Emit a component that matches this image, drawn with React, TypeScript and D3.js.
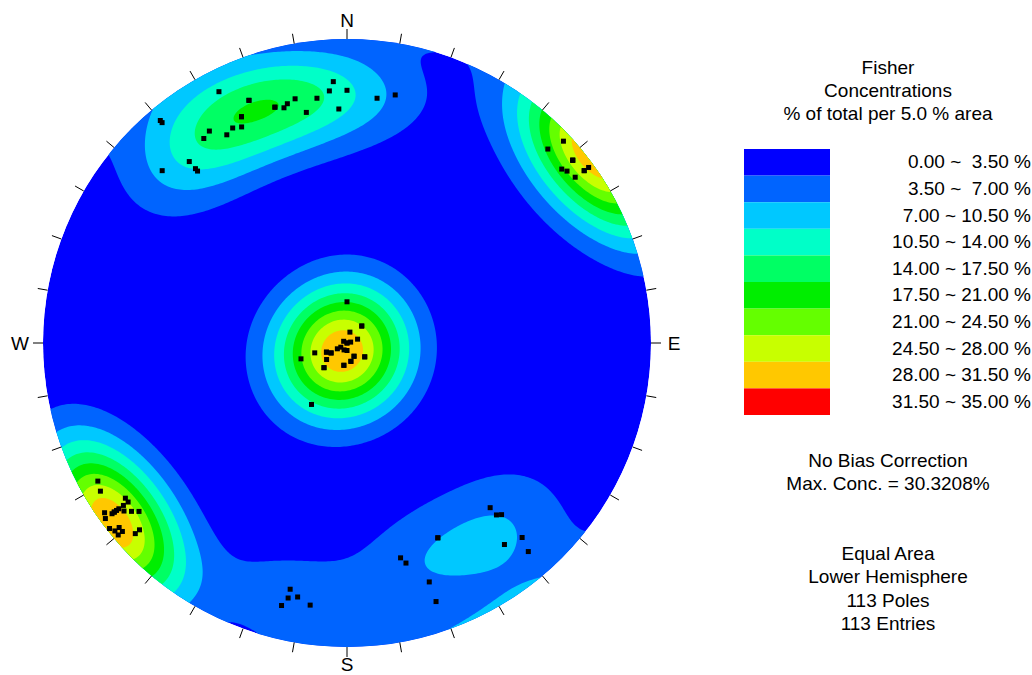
import { useEffect, useRef } from "react";
import * as d3 from "d3";

// pole orientations (trend / plunge, degrees)
const poleTrend = [
  // north-west cluster
  320, 320, 333, 338, 335, 334, 332, 330, 327, 325, 343, 345, 346, 348, 350, 353, 356, 357, 0, 358, 319, 319, 319, 313, 7, 11,
  335, 343, 338,
  // north-east rim cluster
  47, 46, 51, 51, 51, 52, 54, 54, 54, 51, 54,
  // centre cluster
  0, 41, 15, 70, 297, 225, 90, 76, 236, 203, 180, 239, 246, 238, 253, 251, 231, 128, 152, 168, 188, 223, 210,
  246, 238, 152, 168, 41, 223, 128, 188,
  // south-west rim cluster
  241, 239, 235, 234, 234, 234, 234, 234, 234, 232, 231, 235, 234, 232, 231, 231, 230, 230, 228, 228, 234, 233,
  // south scatter
  193, 193, 191, 194, 188, 139, 139, 138, 155, 138, 142, 139, 166, 165, 161, 161, 155,
];
const polePlunge = [
  5, 6, 8, 15, 19, 22, 21, 22, 18, 19, 20, 21, 20, 19, 24, 20, 18, 15, 18, 24, 22, 25, 26, 18, 20, 18,
  19, 20, 15,
  3, 9, 5, 5, 10, 9, 8, 4, 2, 5, 4,
  79, 84, 87, 87, 89, 90, 90, 89, 88, 88, 88, 87, 84, 85, 81, 77, 83, 84, 86, 85, 84, 81, 71,
  84, 85, 86, 85, 84, 81, 84, 84,
  7, 6, 12, 12, 10, 8, 7, 6, 5, 11, 13, 3, 2, 1, 2, 4, 4, 2, 7, 9, 6, 9,
  18, 15, 16, 12, 14, 29, 26, 25, 30, 15, 17, 10, 28, 26, 18, 11, 30,
];

const levels = [0, 3.5, 7, 10.5, 14, 17.5, 21, 24.5, 28, 31.5, 35];
const levelColors = [
  "#0000ff", "#0064ff", "#00c8ff", "#00ffc8", "#00ff64",
  "#00ee00", "#64ff00", "#c8ff00", "#ffc800", "#ff0000",
];
const legendLabels = [
  "0.00 ~  3.50 %", "3.50 ~  7.00 %", "7.00 ~ 10.50 %", "10.50 ~ 14.00 %", "14.00 ~ 17.50 %",
  "17.50 ~ 21.00 %", "21.00 ~ 24.50 %", "24.50 ~ 28.00 %", "28.00 ~ 31.50 %", "31.50 ~ 35.00 %",
];
const headerLines = ["Fisher", "Concentrations", "% of total per 5.0 % area"];
const noteLines = ["No Bias Correction", "Max. Conc. = 30.3208%"];
const infoLines = ["Equal Area", "Lower Hemisphere", "113 Poles", "113 Entries"];
const compass = [["N", 0], ["E", 90], ["S", 180], ["W", 270]] as const;
const kappa = 25;

export default function App() {
  const svgRef = useRef<SVGSVGElement>(null);

  useEffect(() => {
    const svg = d3.select(svgRef.current);
    svg.selectAll("*").remove();

    const cx = 347, cy = 343, R = 304;
    const rad = Math.PI / 180;
    const font = "'Liberation Sans', Arial, sans-serif";

    // equal area (Schmidt) lower hemisphere
    const radius = d3.scaleLinear().domain([0, 1]).range([0, R]);
    const project = (trend: number, plunge: number) => {
      const r = radius(Math.SQRT2 * Math.sin(((90 - plunge) * rad) / 2));
      return [cx + r * Math.sin(trend * rad), cy - r * Math.cos(trend * rad)];
    };
    const vec = (trend: number, plunge: number) => [
      Math.cos(plunge * rad) * Math.cos(trend * rad),
      Math.cos(plunge * rad) * Math.sin(trend * rad),
      Math.sin(plunge * rad),
    ];
    const poles = poleTrend.map((t, i) => vec(t, polePlunge[i]));
    const N = poles.length;

    // fisher density grid, % of total per 5 % area
    const step = 2;
    const n = Math.ceil((2 * R) / step) + 4;
    const x0 = cx - (n * step) / 2, y0 = cy - (n * step) / 2;
    const norm = 1 - Math.exp(-2 * kappa);
    const values = new Float64Array(n * n);
    for (let j = 0; j < n; j++) {
      for (let i = 0; i < n; i++) {
        const dx = x0 + (i + 0.5) * step - cx;
        const dy = y0 + (j + 0.5) * step - cy;
        let rr = Math.sqrt(dx * dx + dy * dy) / R;
        if (rr > 1) rr = 1;
        const theta = 2 * Math.asin(rr / Math.SQRT2);
        const plunge = 90 - theta / rad;
        const trend = Math.atan2(dx, -dy) / rad;
        const v = vec(trend, plunge);
        let s = 0;
        for (const p of poles) {
          const c = v[0] * p[0] + v[1] * p[1] + v[2] * p[2];
          s += (Math.exp(kappa * (c - 1)) + Math.exp(-kappa * (c + 1))) / norm;
        }
        values[j * n + i] = (5 / N) * kappa * s;
      }
    }

    const contours = d3.contours().size([n, n]).thresholds(levels.slice(1, -1))(Array.from(values));
    const path = d3.geoPath(d3.geoIdentity().scale(step).translate([x0, y0]));

    svg.append("defs").append("clipPath").attr("id", "net-clip")
      .append("circle").attr("cx", cx).attr("cy", cy).attr("r", R);

    const net = svg.append("g").attr("clip-path", "url(#net-clip)");
    net.append("circle").attr("cx", cx).attr("cy", cy).attr("r", R).attr("fill", levelColors[0]);
    net.selectAll("path.band")
      .data(contours)
      .join("path")
      .attr("class", "band")
      .attr("d", (d: any) => path(d))
      .attr("fill", (_d, i) => levelColors[i + 1]);

    // ticks every 10 degrees
    svg.append("g")
      .selectAll("line")
      .data(d3.range(0, 360, 10))
      .join("line")
      .attr("x1", (a) => cx + R * Math.sin(a * rad))
      .attr("y1", (a) => cy - R * Math.cos(a * rad))
      .attr("x2", (a) => cx + (R + 10) * Math.sin(a * rad))
      .attr("y2", (a) => cy - (R + 10) * Math.cos(a * rad))
      .attr("stroke", "#000")
      .attr("stroke-width", 1);

    svg.append("g")
      .selectAll("text")
      .data(compass)
      .join("text")
      .attr("x", (d) => cx + (R + 23) * Math.sin(d[1] * rad))
      .attr("y", (d) => cy - (d[1] === 180 ? R + 17 : R + 19) * Math.cos(d[1] * rad))
      .attr("dy", "0.36em")
      .attr("text-anchor", "middle")
      .attr("font-family", font)
      .attr("font-size", 19)
      .text((d) => d[0]);

    // poles
    svg.append("g")
      .selectAll("rect")
      .data(poleTrend.map((t, i) => project(t, polePlunge[i])))
      .join("rect")
      .attr("x", (d) => d[0] - 2.5)
      .attr("y", (d) => d[1] - 2.5)
      .attr("width", 5)
      .attr("height", 5)
      .attr("fill", "#000");

    // legend
    const lx = 888;
    const band = d3.scaleBand<number>().domain(d3.range(levelColors.length)).range([149, 415]);
    const txt = svg.append("g").attr("font-family", font).attr("font-size", 19).attr("fill", "#000");
    headerLines.forEach((s, i) => {
      txt.append("text").attr("x", lx).attr("y", 74 + i * 23).attr("text-anchor", "middle").text(s);
    });
    svg.append("g")
      .selectAll("rect")
      .data(levelColors)
      .join("rect")
      .attr("x", 744)
      .attr("y", (_d, i) => band(i)!)
      .attr("width", 86)
      .attr("height", band.bandwidth())
      .attr("fill", (d) => d);
    txt.append("g")
      .selectAll("text")
      .data(legendLabels)
      .join("text")
      .attr("x", 1031)
      .attr("y", (_d, i) => band(i)! + band.bandwidth() / 2 + 6)
      .attr("text-anchor", "end")
      .style("white-space", "pre")
      .text((d) => d);
    noteLines.forEach((s, i) => {
      txt.append("text").attr("x", lx).attr("y", 467 + i * 23).attr("text-anchor", "middle").text(s);
    });
    infoLines.forEach((s, i) => {
      txt.append("text").attr("x", lx).attr("y", 560 + i * 23.3).attr("text-anchor", "middle").text(s);
    });
  }, []);

  return (
    <svg ref={svgRef} width={1032} height={675} style={{ position: "absolute", left: 0, top: 0 }} />
  );
}
